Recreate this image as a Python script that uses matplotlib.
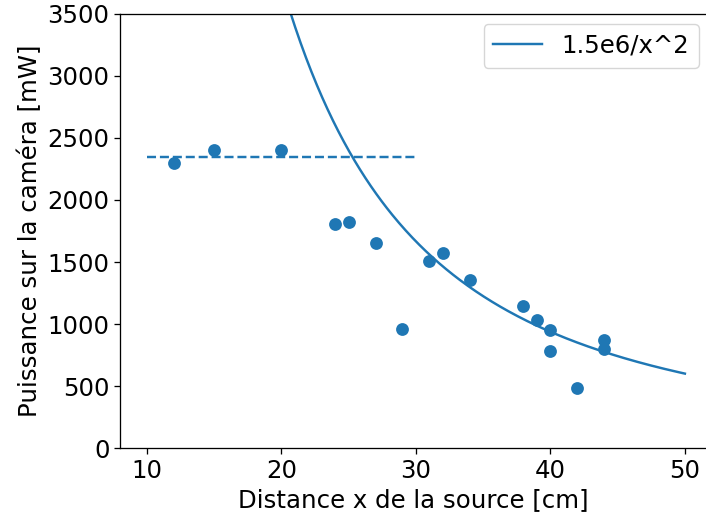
import numpy as np
import matplotlib
matplotlib.use("Agg")
import matplotlib.pyplot as plt

x_meas = [12, 15, 20, 24, 25, 27, 29, 31, 32, 34, 38, 39, 40, 40, 42, 44, 44]
p_meas = [2300, 2400, 2400, 1810, 1825, 1655, 960, 1505, 1575, 1355, 1145, 1035, 950, 785, 485, 875, 795]
plateau_x = [10, 30]
plateau_y = [2350, 2350]
fit_label = "1.5e6/x^2"
fit_coef = 1.5e6

sc = 1.17
plt.rcParams['font.size'] = 10 * 1.5 * sc
plt.rcParams['axes.linewidth'] = 0.8 * sc
plt.rcParams['xtick.major.size'] = 3.5 * sc
plt.rcParams['ytick.major.size'] = 3.5 * sc
plt.rcParams['xtick.major.width'] = 0.8 * sc
plt.rcParams['ytick.major.width'] = 0.8 * sc
plt.rcParams['legend.fontsize'] = 10 * 1.5 * sc

fig = plt.figure(figsize=(7.06, 5.18), dpi=100)
left_px = 120.0
px_per_unit = 13.45
ax = fig.add_axes([left_px / 706, 0.1351, 1 - left_px / 706, 0.8379])
ax.spines['right'].set_visible(False)

xs = np.linspace(10, 50, 400)
ax.plot(xs, fit_coef / xs**2, color='#1f77b4', lw=1.5 * sc, label=fit_label)
ax.plot(plateau_x, plateau_y, '--', color='#1f77b4', lw=1.5 * sc)
ax.scatter(x_meas, p_meas, s=36 * 1.5 * sc**2 * 1.15, color='#1f77b4', zorder=3, linewidths=0)

ax.set_xlim(8, 8 + (706 - left_px) / px_per_unit)
ax.set_ylim(0, 3500)
ax.set_xticks([10, 20, 30, 40, 50])
ax.set_yticks(np.arange(0, 3501, 500))
ax.set_xlabel("Distance x de la source [cm]")
ax.set_ylabel("Puissance sur la caméra [mW]")
ax.legend(loc='upper right', bbox_to_anchor=(699 / 706, (518 - 24) / 518),
          bbox_transform=fig.transFigure, borderaxespad=0)

fig.savefig("out.png", dpi=100)
